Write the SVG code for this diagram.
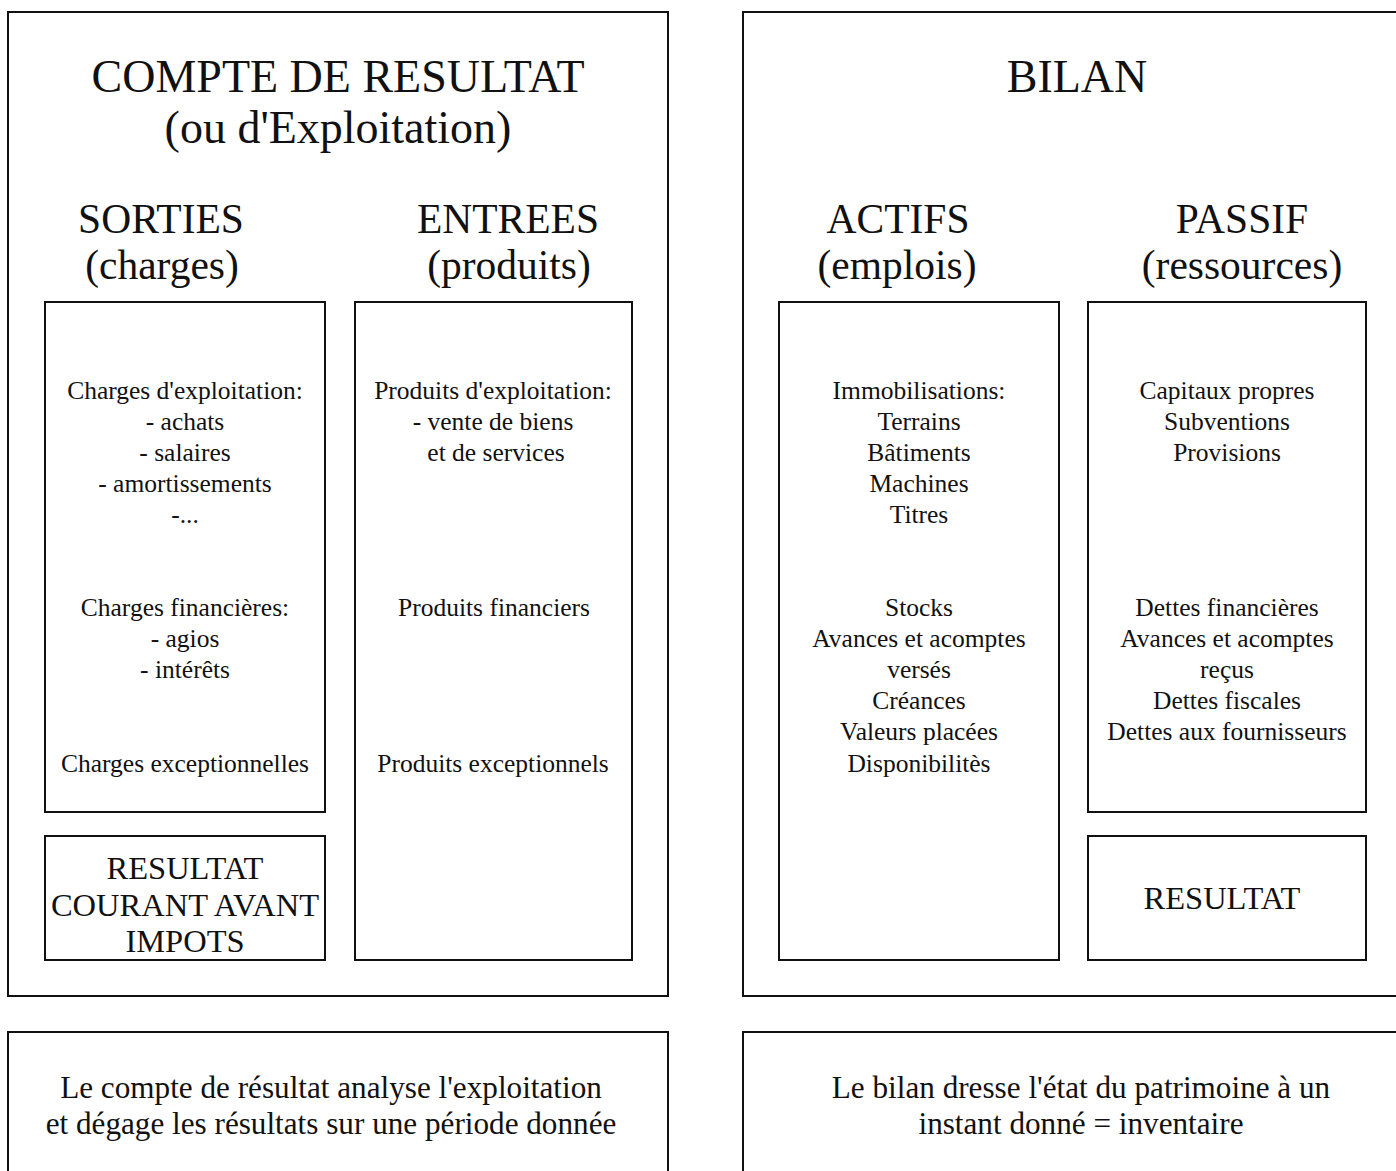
<svg xmlns="http://www.w3.org/2000/svg" width="1396" height="1171" viewBox="0 0 1396 1171">
<style>
rect{fill:none;stroke:#111;stroke-width:2}
text{font-family:"Liberation Serif","Times New Roman",serif;fill:#111;text-anchor:middle}
.t{font-size:46px}
.h{font-size:41.5px}
.b{font-size:25.5px}
.r{font-size:32.5px}
.f{font-size:31.2px}
</style>
<rect width="1396" height="1171" style="fill:#fff;stroke:none"/>
<g id="compte-resultat">
<rect x="8" y="12" width="660" height="984"/>
<text class="t" x="338" y="92">COMPTE DE RESULTAT</text>
<text class="t" x="338" y="143">(ou d'Exploitation)</text>
<text class="h" x="161" y="233">SORTIES</text>
<text class="h" x="162" y="279">(charges)</text>
<text class="h" x="508" y="233">ENTREES</text>
<text class="h" x="509" y="279">(produits)</text>
</g>
<g id="sorties">
<rect x="45" y="302" width="280" height="510"/>
<text class="b" x="185" y="399">Charges d'exploitation:</text>
<text class="b" x="185" y="430">- achats</text>
<text class="b" x="185" y="461">- salaires</text>
<text class="b" x="185" y="492">- amortissements</text>
<text class="b" x="185" y="523">-...</text>
<text class="b" x="185" y="616">Charges financières:</text>
<text class="b" x="185" y="647">- agios</text>
<text class="b" x="185" y="678">- intérêts</text>
<text class="b" x="185" y="772">Charges exceptionnelles</text>
</g>
<g id="resultat-courant">
<rect x="45" y="836" width="280" height="124"/>
<text class="r" x="185" y="879">RESULTAT</text>
<text class="r" x="185" y="916">COURANT AVANT</text>
<text class="r" x="185" y="952">IMPOTS</text>
</g>
<g id="entrees">
<rect x="355" y="302" width="277" height="658"/>
<text class="b" x="493" y="399">Produits d'exploitation:</text>
<text class="b" x="493" y="430">- vente de biens</text>
<text class="b" x="496" y="461">et de services</text>
<text class="b" x="494" y="616">Produits financiers</text>
<text class="b" x="493" y="772">Produits exceptionnels</text>
</g>
<g id="bilan">
<rect x="743" y="12" width="656" height="984"/>
<text class="t" x="1077" y="92">BILAN</text>
<text class="h" x="898" y="233">ACTIFS</text>
<text class="h" x="897" y="279">(emplois)</text>
<text class="h" x="1242" y="233">PASSIF</text>
<text class="h" x="1242" y="279">(ressources)</text>
</g>
<g id="actifs">
<rect x="779" y="302" width="280" height="658"/>
<text class="b" x="919" y="399">Immobilisations:</text>
<text class="b" x="919" y="430">Terrains</text>
<text class="b" x="919" y="461">Bâtiments</text>
<text class="b" x="919" y="492">Machines</text>
<text class="b" x="919" y="523">Titres</text>
<text class="b" x="919" y="616">Stocks</text>
<text class="b" x="919" y="647">Avances et acomptes</text>
<text class="b" x="919" y="678">versés</text>
<text class="b" x="919" y="709">Créances</text>
<text class="b" x="919" y="740">Valeurs placées</text>
<text class="b" x="919" y="772">Disponibilitès</text>
</g>
<g id="passif">
<rect x="1088" y="302" width="278" height="510"/>
<text class="b" x="1227" y="399">Capitaux propres</text>
<text class="b" x="1227" y="430">Subventions</text>
<text class="b" x="1227" y="461">Provisions</text>
<text class="b" x="1227" y="616">Dettes financières</text>
<text class="b" x="1227" y="647">Avances et acomptes</text>
<text class="b" x="1227" y="678">reçus</text>
<text class="b" x="1227" y="709">Dettes fiscales</text>
<text class="b" x="1227" y="740">Dettes aux fournisseurs</text>
</g>
<g id="resultat">
<rect x="1088" y="836" width="278" height="124"/>
<text class="r" x="1222" y="909">RESULTAT</text>
</g>
<g id="note-compte">
<rect x="8" y="1032" width="660" height="150"/>
<text class="f" x="331" y="1098">Le compte de résultat analyse l'exploitation</text>
<text class="f" x="331" y="1134">et dégage les résultats sur une période donnée</text>
</g>
<g id="note-bilan">
<rect x="743" y="1032" width="656" height="150"/>
<text class="f" x="1081" y="1098">Le bilan dresse l'état du patrimoine à un</text>
<text class="f" x="1081" y="1134">instant donné = inventaire</text>
</g>
<g id="connectors"></g>
</svg>
